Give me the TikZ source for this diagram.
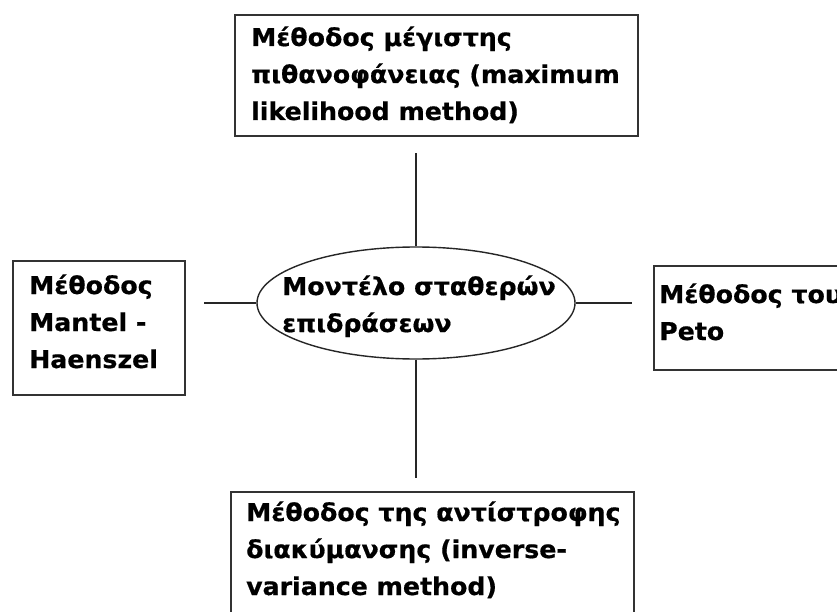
\documentclass[tikz,border=0pt]{standalone}
\usepackage{fontspec}
\setmainfont{DejaVu Sans}
\newfontfamily\boxfont{DejaVu Sans Bold}[FakeStretch=1.03, FakeBold=0.6]
\usetikzlibrary{shapes.geometric}
\begin{document}
\begin{tikzpicture}[x=1pt,y=-1pt,
  box/.style={draw=black!80, line width=1.6pt, rectangle, inner sep=0pt, anchor=north west},
  oval/.style={draw=black!85, line width=1.4pt, ellipse, inner sep=0pt},
  txt/.style={font=\boxfont\fontsize{24.5}{37}\selectfont, align=left, inner sep=0pt, anchor=base west},
  link/.style={draw=black!85, line width=1.4pt}]
\useasboundingbox (0,0) rectangle (837,612);
\clip (0,0) rectangle (837,612);
\fill[white] (0,0) rectangle (837,612);

% boxes and the central ellipse
\node[box, minimum width=403pt, minimum height=121pt] (top) at (234,14) {};
\node[box, minimum width=172pt, minimum height=134pt] (left) at (12,260) {};
\node[box, minimum width=210pt, minimum height=104pt] (right) at (653,265) {};
\node[box, minimum width=403pt, minimum height=140pt] (bottom) at (230,491) {};
\node[oval, minimum width=318pt, minimum height=112pt] (ell) at (416,303) {};

% texts (anchored at the baseline of their last line)
\node[txt] (toptxt) at (251,120) {Μέθοδος μέγιστης\\πιθανοφάνειας (maximum\\likelihood method)};
\node[txt] (lefttxt) at (29,368) {Μέθοδος\\Mantel -\\Haenszel};
\node[txt] (righttxt) at (659,340) {Μέθοδος του\\Peto};
\node[txt] (bottomtxt) at (246,595) {Μέθοδος της αντίστροφης\\διακύμανσης (inverse-\\variance method)};
\node[txt] (elltxt) at (282,332) {Μοντέλο σταθερών\\επιδράσεων};

% connectors
\draw[link, shorten >=16pt] (ell.north) -- (ell.north |- top.south);
\draw[link, shorten >=18pt] (ell.west) -- (ell.west -| left.east);
\draw[link, shorten >=21pt] (ell.east) -- (ell.east -| right.west);
\draw[link, shorten >=13pt] (ell.south) -- (ell.south |- bottom.north);
\end{tikzpicture}
\end{document}
